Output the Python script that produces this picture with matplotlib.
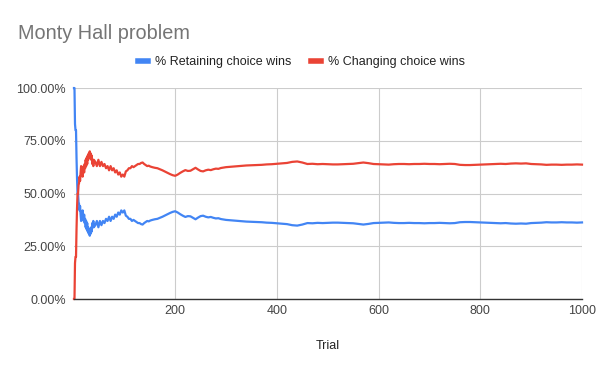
import numpy as np
import matplotlib
matplotlib.use('Agg')
import matplotlib.pyplot as plt
from matplotlib.lines import Line2D

plt.rcParams['font.family'] = ['Liberation Sans', 'DejaVu Sans']

# sampled trial numbers (denser where the curves move a lot)
trials = (list(range(1, 41)) + list(range(43, 152, 3))
          + list(range(155, 301, 5)) + list(range(310, 1001, 10)))

# % of wins when retaining the first choice
retaining = [
    100, 100, 83, 80, 80, 67, 57, 50, 50, 46, 45, 42, 44, 40,
    37, 41, 38, 42, 39, 37, 40, 36, 38, 34, 37, 33, 36, 32, 34, 31,
    33, 30, 33, 31, 34, 32, 36, 34, 37, 34,
    35, 37, 34, 37, 35, 37, 36, 38, 37, 39,
    37, 39, 38, 40, 39, 41, 40, 42, 41, 42,
    39.5, 39, 38, 38, 37, 37.5, 37, 36.5, 36, 36,
    35.5, 35.3, 36, 36.5, 37, 36.8, 37.2,
    37.5, 37.8, 38, 38.5, 39, 39.6, 40.2, 40.8, 41.3, 41.6,
    41, 40.2, 39.5, 38.9, 39.3, 39.2, 38.5, 37.8, 38.6, 39.3,
    39.5, 39, 38.7, 38.9, 38.5, 38.2, 38.3, 37.9, 37.7, 37.5,
    37.3, 37.1, 36.9, 36.7, 36.6, 36.5, 36.4, 36.2, 36.1, 35.9,
    35.7, 35.5, 35.0, 34.8, 35.3, 36.0, 35.9, 36.1, 36.0, 36.1,
    36.2, 36.2, 36.1, 36.0, 35.9, 35.6, 35.3, 35.6, 36.0, 36.1,
    36.2, 36.3, 36.1, 36.0, 36.0, 36.1, 36.0, 36.0, 35.9, 36.0,
    36.0, 36.1, 36.0, 35.9, 36.0, 36.4, 36.5, 36.5, 36.4, 36.3,
    36.2, 36.1, 36.0, 35.9, 36.0, 35.8, 35.7, 35.8, 35.7, 36.0,
    36.1, 36.2, 36.4, 36.3, 36.3, 36.4, 36.3, 36.3, 36.2, 36.3,
]

# % of wins when changing the choice
changing = [
    0, 0, 17, 20, 20, 33, 43, 50, 50, 54, 55, 58, 56, 60,
    63, 59, 62, 58, 61, 63, 60, 64, 62, 66, 63, 67, 64, 68, 66, 69,
    67, 70, 67, 69, 66, 68, 64, 66, 63, 66,
    65, 63, 66, 63, 65, 63, 64, 62, 63, 61,
    63, 61, 62, 60, 61, 59, 60, 58, 59, 58,
    60.5, 61, 62, 62, 63, 62.5, 63, 63.5, 64, 64,
    64.5, 64.7, 64, 63.5, 63, 63.2, 62.8,
    62.5, 62.2, 62, 61.5, 61, 60.4, 59.8, 59.2, 58.7, 58.4,
    59, 59.8, 60.5, 61.1, 60.7, 60.8, 61.5, 62.2, 61.4, 60.7,
    60.5, 61, 61.3, 61.1, 61.5, 61.8, 61.7, 62.1, 62.3, 62.5,
    62.7, 62.9, 63.1, 63.3, 63.4, 63.5, 63.6, 63.8, 63.9, 64.1,
    64.3, 64.5, 65.0, 65.2, 64.7, 64.0, 64.1, 63.9, 64.0, 63.9,
    63.8, 63.8, 63.9, 64.0, 64.1, 64.4, 64.7, 64.4, 64.0, 63.9,
    63.8, 63.7, 63.9, 64.0, 64.0, 63.9, 64.0, 64.0, 64.1, 64.0,
    64.0, 63.9, 64.0, 64.1, 64.0, 63.6, 63.5, 63.5, 63.6, 63.7,
    63.8, 63.9, 64.0, 64.1, 64.0, 64.2, 64.3, 64.2, 64.3, 64.0,
    63.9, 63.8, 63.6, 63.7, 63.7, 63.6, 63.7, 63.7, 63.8, 63.7,
]

series_names = ['% Retaining choice wins', '% Changing choice wins']
colors = ['#4285F4', '#EA4335']
x_ticks = [200, 400, 600, 800, 1000]
y_ticks = [0, 25, 50, 75, 100]

fig = plt.figure(figsize=(6, 3.71), dpi=100)
ax = fig.add_axes([0.1233, 0.194, 0.8467, 0.5687])

ax.plot(trials, retaining, color=colors[0], lw=1.6, clip_on=False, zorder=3)
ax.plot(trials, changing, color=colors[1], lw=1.6, clip_on=False, zorder=4)

ax.set_xlim(1, 1000)
ax.set_ylim(0, 100)
ax.set_xticks(x_ticks)
ax.set_yticks(y_ticks)
ax.set_yticklabels([f'{v:.2f}%' for v in y_ticks])
ax.tick_params(length=0, labelsize=9, colors='#444444', pad=6)
ax.tick_params(axis='x', pad=4)
ax.grid(True, color='#cccccc', lw=0.8)
ax.set_axisbelow(True)
for s in ['top', 'right', 'left']:
    ax.spines[s].set_visible(False)
ax.spines['bottom'].set_color('#333333')
ax.spines['bottom'].set_linewidth(1)
ax.spines['bottom'].set_zorder(5)

ax.set_xlabel('Trial', fontsize=9, color='#222222', labelpad=17)

fig.text(0.03, 0.911, 'Monty Hall problem', fontsize=14.3, color='#757575',
         va='center', ha='left')

handles = [Line2D([0], [0], color=c, lw=4) for c in colors]
fig.legend(handles, series_names, loc='center', bbox_to_anchor=(0.503, 0.833),
           ncol=2, frameon=False, fontsize=9, handlelength=0.75,
           handletextpad=0.6, columnspacing=1.6, labelcolor='#222222')

fig.savefig('out.png', dpi=100)
